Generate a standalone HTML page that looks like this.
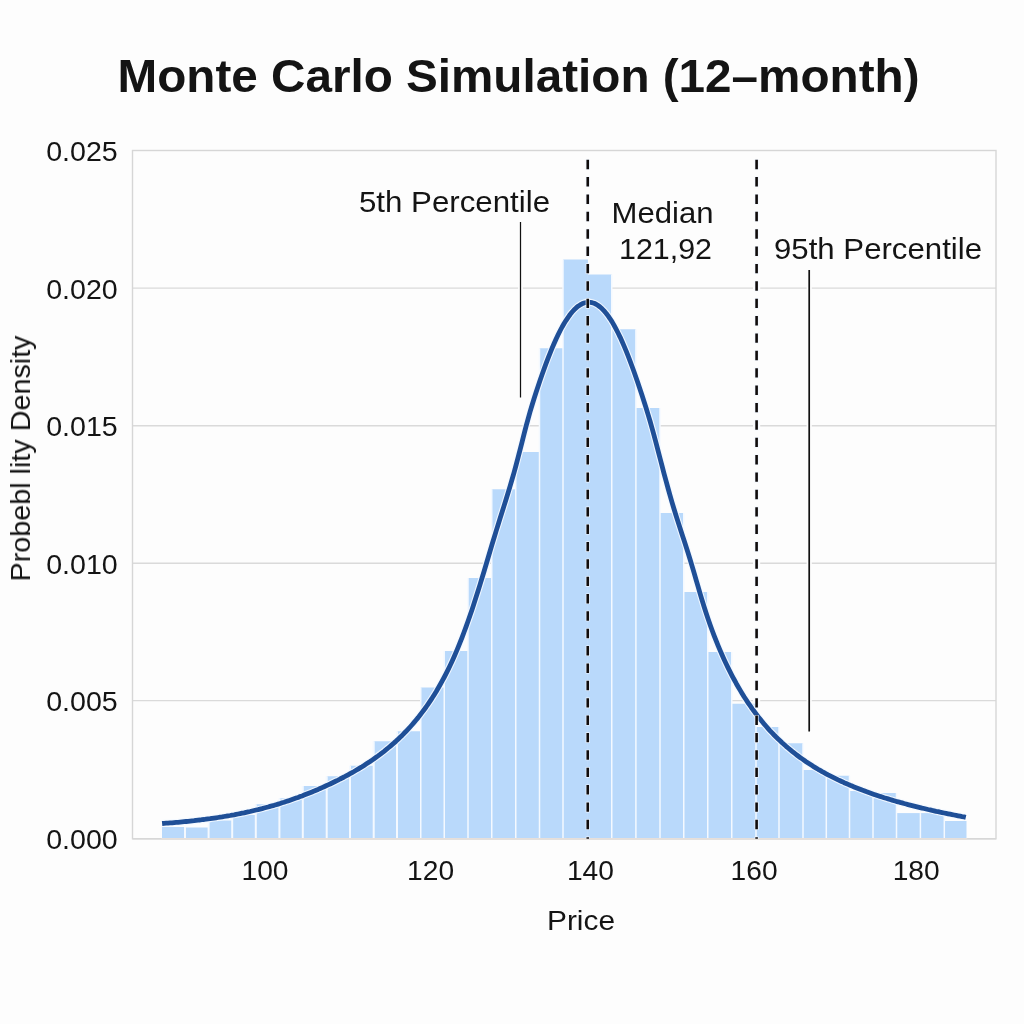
<!DOCTYPE html>
<html><head><meta charset="utf-8"><title>Monte Carlo Simulation (12-month)</title>
<style>
html,body{margin:0;padding:0;background:#fdfdfd;}
body{width:1024px;height:1024px;overflow:hidden;font-family:"Liberation Sans",sans-serif;}
svg{display:block;}
text{font-family:"Liberation Sans",sans-serif;fill:#141414;}
</style></head><body>
<svg width="1024" height="1024" viewBox="0 0 1024 1024">
<rect x="0" y="0" width="1024" height="1024" fill="#fdfdfd"/>
<line x1="132.5" x2="996.0" y1="288.1" y2="288.1" stroke="#dadada" stroke-width="1.4"/>
<line x1="132.5" x2="996.0" y1="425.75" y2="425.75" stroke="#dadada" stroke-width="1.4"/>
<line x1="132.5" x2="996.0" y1="563.2" y2="563.2" stroke="#dadada" stroke-width="1.4"/>
<line x1="132.5" x2="996.0" y1="700.6" y2="700.6" stroke="#dadada" stroke-width="1.4"/>
<rect x="132.5" y="150.5" width="863.5" height="688.25" fill="none" stroke="#d6d6d6" stroke-width="1.4"/>
<rect x="162.00" y="827.00" width="23.00" height="11.25" fill="#b9d9fb"/>
<rect x="185.00" y="827.50" width="23.60" height="10.75" fill="#b9d9fb"/>
<rect x="208.60" y="820.50" width="23.60" height="17.75" fill="#b9d9fb"/>
<rect x="232.20" y="815.00" width="23.60" height="23.25" fill="#b9d9fb"/>
<rect x="255.80" y="804.25" width="23.60" height="34.00" fill="#b9d9fb"/>
<rect x="279.40" y="798.25" width="23.40" height="40.00" fill="#b9d9fb"/>
<rect x="302.80" y="786.00" width="23.90" height="52.25" fill="#b9d9fb"/>
<rect x="326.70" y="776.25" width="23.30" height="62.00" fill="#b9d9fb"/>
<rect x="350.00" y="765.75" width="23.70" height="72.50" fill="#b9d9fb"/>
<rect x="373.70" y="741.25" width="23.30" height="97.00" fill="#b9d9fb"/>
<rect x="397.00" y="731.25" width="23.75" height="107.00" fill="#b9d9fb"/>
<rect x="420.75" y="687.50" width="23.50" height="150.75" fill="#b9d9fb"/>
<rect x="444.25" y="651.00" width="23.75" height="187.25" fill="#b9d9fb"/>
<rect x="468.00" y="578.00" width="23.75" height="260.25" fill="#b9d9fb"/>
<rect x="491.75" y="489.25" width="24.00" height="349.00" fill="#b9d9fb"/>
<rect x="515.75" y="452.00" width="23.75" height="386.25" fill="#b9d9fb"/>
<rect x="539.50" y="348.25" width="23.50" height="490.00" fill="#b9d9fb"/>
<rect x="563.00" y="259.50" width="24.90" height="578.75" fill="#b9d9fb"/>
<rect x="587.90" y="274.50" width="23.85" height="563.75" fill="#b9d9fb"/>
<rect x="611.75" y="329.25" width="24.15" height="509.00" fill="#b9d9fb"/>
<rect x="635.90" y="408.00" width="24.10" height="430.25" fill="#b9d9fb"/>
<rect x="660.00" y="513.00" width="23.75" height="325.25" fill="#b9d9fb"/>
<rect x="683.75" y="592.00" width="24.00" height="246.25" fill="#b9d9fb"/>
<rect x="707.75" y="652.00" width="24.00" height="186.25" fill="#b9d9fb"/>
<rect x="731.75" y="703.75" width="24.25" height="134.50" fill="#b9d9fb"/>
<rect x="756.00" y="727.00" width="23.00" height="111.25" fill="#b9d9fb"/>
<rect x="779.00" y="743.25" width="24.00" height="95.00" fill="#b9d9fb"/>
<rect x="803.00" y="770.00" width="23.30" height="68.25" fill="#b9d9fb"/>
<rect x="826.30" y="775.75" width="23.20" height="62.50" fill="#b9d9fb"/>
<rect x="849.50" y="791.00" width="23.50" height="47.25" fill="#b9d9fb"/>
<rect x="873.00" y="793.00" width="23.50" height="45.25" fill="#b9d9fb"/>
<rect x="896.50" y="813.10" width="23.90" height="25.15" fill="#b9d9fb"/>
<rect x="920.40" y="813.10" width="23.90" height="25.15" fill="#b9d9fb"/>
<rect x="944.30" y="821.00" width="22.20" height="17.25" fill="#b9d9fb"/>
<line x1="185.00" x2="185.00" y1="827.00" y2="838.25" stroke="#f4f9ff" stroke-width="2.0"/>
<line x1="208.60" x2="208.60" y1="820.50" y2="838.25" stroke="#f4f9ff" stroke-width="2.0"/>
<line x1="232.20" x2="232.20" y1="815.00" y2="838.25" stroke="#f4f9ff" stroke-width="2.0"/>
<line x1="255.80" x2="255.80" y1="804.25" y2="838.25" stroke="#f4f9ff" stroke-width="2.0"/>
<line x1="279.40" x2="279.40" y1="798.25" y2="838.25" stroke="#f4f9ff" stroke-width="2.0"/>
<line x1="302.80" x2="302.80" y1="786.00" y2="838.25" stroke="#f4f9ff" stroke-width="2.0"/>
<line x1="326.70" x2="326.70" y1="776.25" y2="838.25" stroke="#f4f9ff" stroke-width="2.0"/>
<line x1="350.00" x2="350.00" y1="765.75" y2="838.25" stroke="#f4f9ff" stroke-width="2.0"/>
<line x1="373.70" x2="373.70" y1="741.25" y2="838.25" stroke="#f4f9ff" stroke-width="2.0"/>
<line x1="397.00" x2="397.00" y1="731.25" y2="838.25" stroke="#f4f9ff" stroke-width="2.0"/>
<line x1="420.75" x2="420.75" y1="687.50" y2="838.25" stroke="#f4f9ff" stroke-width="1.5"/>
<line x1="444.25" x2="444.25" y1="651.00" y2="838.25" stroke="#f4f9ff" stroke-width="1.5"/>
<line x1="468.00" x2="468.00" y1="578.00" y2="838.25" stroke="#f4f9ff" stroke-width="1.5"/>
<line x1="491.75" x2="491.75" y1="489.25" y2="838.25" stroke="#f4f9ff" stroke-width="1.5"/>
<line x1="515.75" x2="515.75" y1="452.00" y2="838.25" stroke="#f4f9ff" stroke-width="1.5"/>
<line x1="539.50" x2="539.50" y1="348.25" y2="838.25" stroke="#f4f9ff" stroke-width="1.5"/>
<line x1="563.00" x2="563.00" y1="259.50" y2="838.25" stroke="#f4f9ff" stroke-width="1.5"/>
<line x1="611.75" x2="611.75" y1="274.50" y2="838.25" stroke="#f4f9ff" stroke-width="1.5"/>
<line x1="635.90" x2="635.90" y1="329.25" y2="838.25" stroke="#f4f9ff" stroke-width="1.5"/>
<line x1="660.00" x2="660.00" y1="408.00" y2="838.25" stroke="#f4f9ff" stroke-width="1.5"/>
<line x1="683.75" x2="683.75" y1="513.00" y2="838.25" stroke="#f4f9ff" stroke-width="1.5"/>
<line x1="707.75" x2="707.75" y1="592.00" y2="838.25" stroke="#f4f9ff" stroke-width="1.5"/>
<line x1="731.75" x2="731.75" y1="652.00" y2="838.25" stroke="#f4f9ff" stroke-width="1.5"/>
<line x1="756.00" x2="756.00" y1="703.75" y2="838.25" stroke="#f4f9ff" stroke-width="1.5"/>
<line x1="779.00" x2="779.00" y1="727.00" y2="838.25" stroke="#f4f9ff" stroke-width="1.5"/>
<line x1="803.00" x2="803.00" y1="743.25" y2="838.25" stroke="#f4f9ff" stroke-width="1.5"/>
<line x1="826.30" x2="826.30" y1="770.00" y2="838.25" stroke="#f4f9ff" stroke-width="1.5"/>
<line x1="849.50" x2="849.50" y1="775.75" y2="838.25" stroke="#f4f9ff" stroke-width="1.5"/>
<line x1="873.00" x2="873.00" y1="791.00" y2="838.25" stroke="#f4f9ff" stroke-width="1.5"/>
<line x1="896.50" x2="896.50" y1="793.00" y2="838.25" stroke="#f4f9ff" stroke-width="1.5"/>
<line x1="920.40" x2="920.40" y1="813.10" y2="838.25" stroke="#f4f9ff" stroke-width="1.5"/>
<line x1="944.30" x2="944.30" y1="813.10" y2="838.25" stroke="#f4f9ff" stroke-width="1.5"/>
<line x1="132.5" x2="996.0" y1="838.75" y2="838.75" stroke="#d7d7d7" stroke-width="1.6"/>
<line x1="161.3" x2="967.2" y1="838.75" y2="838.75" stroke="#e6dfda" stroke-width="1.6"/>
<path d="M162.1,823.5 L164.1,823.3 L166.1,823.2 L168.1,823.1 L170.1,822.9 L172.1,822.8 L174.1,822.6 L176.1,822.4 L178.1,822.3 L180.1,822.1 L182.1,821.9 L184.1,821.7 L186.1,821.5 L188.1,821.3 L190.1,821.1 L192.1,820.9 L194.1,820.7 L196.1,820.4 L198.1,820.2 L200.1,820.0 L202.1,819.7 L204.1,819.5 L206.1,819.2 L208.1,818.9 L210.1,818.7 L212.1,818.4 L214.1,818.1 L216.1,817.8 L218.1,817.5 L220.1,817.2 L222.1,816.9 L224.1,816.5 L226.1,816.2 L228.1,815.8 L230.1,815.5 L232.1,815.1 L234.1,814.8 L236.1,814.4 L238.1,814.0 L240.1,813.6 L242.1,813.2 L244.1,812.8 L246.1,812.3 L248.1,811.9 L250.1,811.5 L252.1,811.0 L254.1,810.5 L256.1,810.0 L258.1,809.6 L260.1,809.1 L262.1,808.6 L264.1,808.0 L266.1,807.5 L268.1,807.0 L270.1,806.4 L272.1,805.8 L274.1,805.3 L276.1,804.7 L278.1,804.1 L280.1,803.5 L282.1,802.8 L284.1,802.2 L286.1,801.5 L288.1,800.9 L290.1,800.2 L292.1,799.5 L294.1,798.8 L296.1,798.1 L298.1,797.4 L300.1,796.6 L302.1,795.9 L304.1,795.1 L306.1,794.3 L308.1,793.5 L310.1,792.7 L312.1,791.9 L314.1,791.1 L316.1,790.2 L318.1,789.4 L320.1,788.5 L322.1,787.6 L324.1,786.7 L326.1,785.8 L328.1,784.9 L330.1,784.0 L332.1,783.0 L334.1,782.0 L336.1,781.0 L338.1,780.1 L340.1,779.0 L342.1,778.0 L344.1,777.0 L346.1,775.9 L348.1,774.8 L350.1,773.7 L352.1,772.6 L354.1,771.5 L356.1,770.3 L358.1,769.1 L360.1,767.9 L362.1,766.7 L364.1,765.4 L366.1,764.1 L368.1,762.8 L370.1,761.5 L372.1,760.1 L374.1,758.7 L376.1,757.3 L378.1,755.9 L380.1,754.4 L382.1,752.8 L384.1,751.3 L386.1,749.7 L388.1,748.0 L390.1,746.4 L392.1,744.6 L394.1,742.9 L396.1,741.1 L398.1,739.2 L400.1,737.3 L402.1,735.4 L404.1,733.3 L406.1,731.3 L408.1,729.2 L410.1,727.0 L412.1,724.7 L414.1,722.4 L416.1,720.0 L418.1,717.6 L420.1,715.0 L422.1,712.4 L424.1,709.7 L426.1,707.0 L428.1,704.1 L430.1,701.1 L432.1,698.1 L434.1,694.9 L436.1,691.7 L438.1,688.3 L440.1,684.8 L442.1,681.2 L444.1,677.5 L446.1,673.6 L448.1,669.6 L450.1,665.5 L452.1,661.2 L454.1,656.7 L456.1,652.1 L458.1,647.3 L460.1,642.4 L462.1,637.3 L464.1,632.0 L466.1,626.6 L468.1,621.0 L470.1,615.3 L472.1,609.4 L474.1,603.3 L476.1,597.1 L478.1,590.8 L480.1,584.4 L482.1,577.8 L484.1,571.2 L486.1,564.5 L488.1,557.8 L490.1,551.0 L492.1,544.3 L494.1,537.7 L496.1,531.1 L498.1,524.7 L500.1,518.3 L502.1,512.0 L504.1,505.6 L506.1,499.2 L508.1,492.7 L510.1,486.1 L512.1,479.3 L514.1,472.3 L516.1,465.0 L518.1,457.4 L520.1,449.6 L522.1,441.8 L524.1,433.9 L526.1,426.2 L528.1,418.8 L530.1,411.7 L532.1,405.0 L534.1,398.5 L536.1,392.3 L538.1,386.3 L540.1,380.3 L542.1,374.5 L544.1,368.9 L546.1,363.4 L548.1,358.1 L550.1,353.1 L552.1,348.2 L554.1,343.5 L556.1,339.0 L558.1,334.8 L560.1,330.8 L562.1,327.0 L564.1,323.5 L566.1,320.3 L568.1,317.3 L570.1,314.5 L572.1,312.0 L574.1,309.8 L576.1,307.9 L578.1,306.2 L580.1,304.9 L582.1,303.8 L584.1,303.0 L586.1,302.5 L588.1,302.2 L590.1,302.3 L592.1,302.7 L594.1,303.3 L596.1,304.2 L598.1,305.5 L600.1,307.0 L602.1,308.8 L604.1,310.9 L606.1,313.2 L608.1,315.9 L610.1,318.8 L612.1,321.9 L614.1,325.4 L616.1,329.1 L618.1,333.0 L620.1,337.1 L622.1,341.5 L624.1,346.1 L626.1,350.9 L628.1,355.9 L630.1,361.1 L632.1,366.5 L634.1,372.0 L636.1,377.7 L638.1,383.5 L640.1,389.5 L642.1,395.5 L644.1,401.8 L646.1,408.1 L648.1,414.6 L650.1,421.3 L652.1,428.3 L654.1,435.6 L656.1,443.2 L658.1,450.8 L660.1,458.5 L662.1,466.2 L664.1,473.8 L666.1,481.2 L668.1,488.5 L670.1,495.6 L672.1,502.6 L674.1,509.3 L676.1,515.8 L678.1,522.1 L680.1,528.3 L682.1,534.5 L684.1,540.6 L686.1,546.8 L688.1,553.1 L690.1,559.5 L692.1,566.1 L694.1,572.9 L696.1,579.8 L698.1,586.7 L700.1,593.6 L702.1,600.3 L704.1,606.8 L706.1,613.0 L708.1,619.0 L710.1,624.7 L712.1,630.2 L714.1,635.6 L716.1,640.7 L718.1,645.6 L720.1,650.4 L722.1,655.0 L724.1,659.4 L726.1,663.7 L728.1,667.9 L730.1,671.9 L732.1,675.8 L734.1,679.5 L736.1,683.2 L738.1,686.7 L740.1,690.1 L742.1,693.4 L744.1,696.7 L746.1,699.8 L748.1,702.8 L750.1,705.7 L752.1,708.6 L754.1,711.3 L756.1,714.0 L758.1,716.6 L760.1,719.1 L762.1,721.6 L764.1,724.0 L766.1,726.3 L768.1,728.6 L770.1,730.8 L772.1,732.9 L774.1,735.0 L776.1,737.0 L778.1,738.9 L780.1,740.8 L782.1,742.7 L784.1,744.5 L786.1,746.3 L788.1,748.0 L790.1,749.7 L792.1,751.3 L794.1,752.9 L796.1,754.5 L798.1,756.0 L800.1,757.5 L802.1,758.9 L804.1,760.3 L806.1,761.7 L808.1,763.0 L810.1,764.3 L812.1,765.6 L814.1,766.9 L816.1,768.1 L818.1,769.3 L820.1,770.4 L822.1,771.6 L824.1,772.7 L826.1,773.8 L828.1,774.9 L830.1,775.9 L832.1,776.9 L834.1,777.9 L836.1,778.9 L838.1,779.9 L840.1,780.8 L842.1,781.7 L844.1,782.7 L846.1,783.5 L848.1,784.4 L850.1,785.3 L852.1,786.1 L854.1,786.9 L856.1,787.7 L858.1,788.5 L860.1,789.3 L862.1,790.1 L864.1,790.8 L866.1,791.6 L868.1,792.3 L870.1,793.0 L872.1,793.7 L874.1,794.4 L876.1,795.1 L878.1,795.7 L880.1,796.4 L882.1,797.0 L884.1,797.7 L886.1,798.3 L888.1,798.9 L890.1,799.5 L892.1,800.1 L894.1,800.7 L896.1,801.3 L898.1,801.8 L900.1,802.4 L902.1,802.9 L904.1,803.5 L906.1,804.0 L908.1,804.6 L910.1,805.1 L912.1,805.6 L914.1,806.1 L916.1,806.6 L918.1,807.1 L920.1,807.6 L922.1,808.1 L924.1,808.5 L926.1,809.0 L928.1,809.5 L930.1,809.9 L932.1,810.4 L934.1,810.8 L936.1,811.3 L938.1,811.7 L940.1,812.2 L942.1,812.6 L944.1,813.0 L946.1,813.4 L948.1,813.8 L950.1,814.2 L952.1,814.6 L954.1,815.0 L956.1,815.4 L958.1,815.8 L960.1,816.2 L962.1,816.6 L964.1,816.9 L965.8,817.3" fill="none" stroke="#f3f8ff" stroke-width="7.0" stroke-linejoin="round" stroke-linecap="butt" opacity="0.92"/>
<path d="M162.1,823.5 L164.1,823.3 L166.1,823.2 L168.1,823.1 L170.1,822.9 L172.1,822.8 L174.1,822.6 L176.1,822.4 L178.1,822.3 L180.1,822.1 L182.1,821.9 L184.1,821.7 L186.1,821.5 L188.1,821.3 L190.1,821.1 L192.1,820.9 L194.1,820.7 L196.1,820.4 L198.1,820.2 L200.1,820.0 L202.1,819.7 L204.1,819.5 L206.1,819.2 L208.1,818.9 L210.1,818.7 L212.1,818.4 L214.1,818.1 L216.1,817.8 L218.1,817.5 L220.1,817.2 L222.1,816.9 L224.1,816.5 L226.1,816.2 L228.1,815.8 L230.1,815.5 L232.1,815.1 L234.1,814.8 L236.1,814.4 L238.1,814.0 L240.1,813.6 L242.1,813.2 L244.1,812.8 L246.1,812.3 L248.1,811.9 L250.1,811.5 L252.1,811.0 L254.1,810.5 L256.1,810.0 L258.1,809.6 L260.1,809.1 L262.1,808.6 L264.1,808.0 L266.1,807.5 L268.1,807.0 L270.1,806.4 L272.1,805.8 L274.1,805.3 L276.1,804.7 L278.1,804.1 L280.1,803.5 L282.1,802.8 L284.1,802.2 L286.1,801.5 L288.1,800.9 L290.1,800.2 L292.1,799.5 L294.1,798.8 L296.1,798.1 L298.1,797.4 L300.1,796.6 L302.1,795.9 L304.1,795.1 L306.1,794.3 L308.1,793.5 L310.1,792.7 L312.1,791.9 L314.1,791.1 L316.1,790.2 L318.1,789.4 L320.1,788.5 L322.1,787.6 L324.1,786.7 L326.1,785.8 L328.1,784.9 L330.1,784.0 L332.1,783.0 L334.1,782.0 L336.1,781.0 L338.1,780.1 L340.1,779.0 L342.1,778.0 L344.1,777.0 L346.1,775.9 L348.1,774.8 L350.1,773.7 L352.1,772.6 L354.1,771.5 L356.1,770.3 L358.1,769.1 L360.1,767.9 L362.1,766.7 L364.1,765.4 L366.1,764.1 L368.1,762.8 L370.1,761.5 L372.1,760.1 L374.1,758.7 L376.1,757.3 L378.1,755.9 L380.1,754.4 L382.1,752.8 L384.1,751.3 L386.1,749.7 L388.1,748.0 L390.1,746.4 L392.1,744.6 L394.1,742.9 L396.1,741.1 L398.1,739.2 L400.1,737.3 L402.1,735.4 L404.1,733.3 L406.1,731.3 L408.1,729.2 L410.1,727.0 L412.1,724.7 L414.1,722.4 L416.1,720.0 L418.1,717.6 L420.1,715.0 L422.1,712.4 L424.1,709.7 L426.1,707.0 L428.1,704.1 L430.1,701.1 L432.1,698.1 L434.1,694.9 L436.1,691.7 L438.1,688.3 L440.1,684.8 L442.1,681.2 L444.1,677.5 L446.1,673.6 L448.1,669.6 L450.1,665.5 L452.1,661.2 L454.1,656.7 L456.1,652.1 L458.1,647.3 L460.1,642.4 L462.1,637.3 L464.1,632.0 L466.1,626.6 L468.1,621.0 L470.1,615.3 L472.1,609.4 L474.1,603.3 L476.1,597.1 L478.1,590.8 L480.1,584.4 L482.1,577.8 L484.1,571.2 L486.1,564.5 L488.1,557.8 L490.1,551.0 L492.1,544.3 L494.1,537.7 L496.1,531.1 L498.1,524.7 L500.1,518.3 L502.1,512.0 L504.1,505.6 L506.1,499.2 L508.1,492.7 L510.1,486.1 L512.1,479.3 L514.1,472.3 L516.1,465.0 L518.1,457.4 L520.1,449.6 L522.1,441.8 L524.1,433.9 L526.1,426.2 L528.1,418.8 L530.1,411.7 L532.1,405.0 L534.1,398.5 L536.1,392.3 L538.1,386.3 L540.1,380.3 L542.1,374.5 L544.1,368.9 L546.1,363.4 L548.1,358.1 L550.1,353.1 L552.1,348.2 L554.1,343.5 L556.1,339.0 L558.1,334.8 L560.1,330.8 L562.1,327.0 L564.1,323.5 L566.1,320.3 L568.1,317.3 L570.1,314.5 L572.1,312.0 L574.1,309.8 L576.1,307.9 L578.1,306.2 L580.1,304.9 L582.1,303.8 L584.1,303.0 L586.1,302.5 L588.1,302.2 L590.1,302.3 L592.1,302.7 L594.1,303.3 L596.1,304.2 L598.1,305.5 L600.1,307.0 L602.1,308.8 L604.1,310.9 L606.1,313.2 L608.1,315.9 L610.1,318.8 L612.1,321.9 L614.1,325.4 L616.1,329.1 L618.1,333.0 L620.1,337.1 L622.1,341.5 L624.1,346.1 L626.1,350.9 L628.1,355.9 L630.1,361.1 L632.1,366.5 L634.1,372.0 L636.1,377.7 L638.1,383.5 L640.1,389.5 L642.1,395.5 L644.1,401.8 L646.1,408.1 L648.1,414.6 L650.1,421.3 L652.1,428.3 L654.1,435.6 L656.1,443.2 L658.1,450.8 L660.1,458.5 L662.1,466.2 L664.1,473.8 L666.1,481.2 L668.1,488.5 L670.1,495.6 L672.1,502.6 L674.1,509.3 L676.1,515.8 L678.1,522.1 L680.1,528.3 L682.1,534.5 L684.1,540.6 L686.1,546.8 L688.1,553.1 L690.1,559.5 L692.1,566.1 L694.1,572.9 L696.1,579.8 L698.1,586.7 L700.1,593.6 L702.1,600.3 L704.1,606.8 L706.1,613.0 L708.1,619.0 L710.1,624.7 L712.1,630.2 L714.1,635.6 L716.1,640.7 L718.1,645.6 L720.1,650.4 L722.1,655.0 L724.1,659.4 L726.1,663.7 L728.1,667.9 L730.1,671.9 L732.1,675.8 L734.1,679.5 L736.1,683.2 L738.1,686.7 L740.1,690.1 L742.1,693.4 L744.1,696.7 L746.1,699.8 L748.1,702.8 L750.1,705.7 L752.1,708.6 L754.1,711.3 L756.1,714.0 L758.1,716.6 L760.1,719.1 L762.1,721.6 L764.1,724.0 L766.1,726.3 L768.1,728.6 L770.1,730.8 L772.1,732.9 L774.1,735.0 L776.1,737.0 L778.1,738.9 L780.1,740.8 L782.1,742.7 L784.1,744.5 L786.1,746.3 L788.1,748.0 L790.1,749.7 L792.1,751.3 L794.1,752.9 L796.1,754.5 L798.1,756.0 L800.1,757.5 L802.1,758.9 L804.1,760.3 L806.1,761.7 L808.1,763.0 L810.1,764.3 L812.1,765.6 L814.1,766.9 L816.1,768.1 L818.1,769.3 L820.1,770.4 L822.1,771.6 L824.1,772.7 L826.1,773.8 L828.1,774.9 L830.1,775.9 L832.1,776.9 L834.1,777.9 L836.1,778.9 L838.1,779.9 L840.1,780.8 L842.1,781.7 L844.1,782.7 L846.1,783.5 L848.1,784.4 L850.1,785.3 L852.1,786.1 L854.1,786.9 L856.1,787.7 L858.1,788.5 L860.1,789.3 L862.1,790.1 L864.1,790.8 L866.1,791.6 L868.1,792.3 L870.1,793.0 L872.1,793.7 L874.1,794.4 L876.1,795.1 L878.1,795.7 L880.1,796.4 L882.1,797.0 L884.1,797.7 L886.1,798.3 L888.1,798.9 L890.1,799.5 L892.1,800.1 L894.1,800.7 L896.1,801.3 L898.1,801.8 L900.1,802.4 L902.1,802.9 L904.1,803.5 L906.1,804.0 L908.1,804.6 L910.1,805.1 L912.1,805.6 L914.1,806.1 L916.1,806.6 L918.1,807.1 L920.1,807.6 L922.1,808.1 L924.1,808.5 L926.1,809.0 L928.1,809.5 L930.1,809.9 L932.1,810.4 L934.1,810.8 L936.1,811.3 L938.1,811.7 L940.1,812.2 L942.1,812.6 L944.1,813.0 L946.1,813.4 L948.1,813.8 L950.1,814.2 L952.1,814.6 L954.1,815.0 L956.1,815.4 L958.1,815.8 L960.1,816.2 L962.1,816.6 L964.1,816.9 L965.8,817.3" fill="none" stroke="#1f4f97" stroke-width="4.8" stroke-linejoin="round" stroke-linecap="butt"/>
<rect x="753.0" y="286.9" width="7.2" height="2.4" fill="#fdfdfd"/>
<rect x="753.0" y="424.6" width="7.2" height="2.4" fill="#fdfdfd"/>
<rect x="753.0" y="562.0" width="7.2" height="2.4" fill="#fdfdfd"/>
<rect x="753.0" y="699.4" width="7.2" height="2.4" fill="#fdfdfd"/>
<rect x="806.6" y="286.9" width="5.2" height="2.4" fill="#fdfdfd"/>
<rect x="806.6" y="424.6" width="5.2" height="2.4" fill="#fdfdfd"/>
<rect x="806.6" y="562.0" width="5.2" height="2.4" fill="#fdfdfd"/>
<rect x="806.6" y="699.4" width="5.2" height="2.4" fill="#fdfdfd"/>
<rect x="518.1" y="286.9" width="4.8" height="2.4" fill="#fdfdfd"/>
<line x1="587.75" x2="587.75" y1="159.15" y2="838.75" stroke="#eef6ff" stroke-opacity="0.85" stroke-width="4.2" stroke-dasharray="10.6 6.77"/>
<line x1="587.75" x2="587.75" y1="159.75" y2="838.75" stroke="#100c0c" stroke-width="2.6" stroke-dasharray="9.4 7.97"/>
<line x1="756.6" x2="756.6" y1="159.15" y2="838.75" stroke="#eef6ff" stroke-opacity="0.85" stroke-width="4.2" stroke-dasharray="10.6 6.77"/>
<line x1="756.6" x2="756.6" y1="159.75" y2="838.75" stroke="#100c0c" stroke-width="2.6" stroke-dasharray="9.4 7.97"/>
<line x1="520.5" x2="520.5" y1="222" y2="397.5" stroke="#111" stroke-width="1.25"/>
<line x1="809.2" x2="809.2" y1="270" y2="731.6" stroke="#111" stroke-width="1.7"/>
<g id="labels" opacity="0.999">
<text id="title" x="117.5" y="91.5" font-size="47" font-weight="bold" fill="#0a0a0a" textLength="802" lengthAdjust="spacingAndGlyphs">Monte Carlo Simulation (12–month)</text>
<text id="p5" x="359" y="212" font-size="29" textLength="191" lengthAdjust="spacingAndGlyphs">5th Percentile</text>
<text id="med" x="611.5" y="222.5" font-size="29" textLength="102" lengthAdjust="spacingAndGlyphs">Median</text>
<text id="medv" x="619" y="259.2" font-size="29" textLength="93" lengthAdjust="spacingAndGlyphs">121,92</text>
<text id="p95" x="774" y="258.75" font-size="29" textLength="208" lengthAdjust="spacingAndGlyphs">95th Percentile</text>
<text class="yt" x="46.2" y="161.1" font-size="27.5" textLength="71.6" lengthAdjust="spacingAndGlyphs">0.025</text>
<text class="yt" x="46.2" y="298.7" font-size="27.5" textLength="71.6" lengthAdjust="spacingAndGlyphs">0.020</text>
<text class="yt" x="46.2" y="436.4" font-size="27.5" textLength="71.6" lengthAdjust="spacingAndGlyphs">0.015</text>
<text class="yt" x="46.2" y="573.8" font-size="27.5" textLength="71.6" lengthAdjust="spacingAndGlyphs">0.010</text>
<text class="yt" x="46.2" y="711.2" font-size="27.5" textLength="71.6" lengthAdjust="spacingAndGlyphs">0.005</text>
<text class="yt" x="46.2" y="849.4" font-size="27.5" textLength="71.6" lengthAdjust="spacingAndGlyphs">0.000</text>
<text class="xt" x="265" y="880" text-anchor="middle" font-size="27" textLength="47" lengthAdjust="spacingAndGlyphs">100</text>
<text class="xt" x="430.6" y="880" text-anchor="middle" font-size="27" textLength="47" lengthAdjust="spacingAndGlyphs">120</text>
<text class="xt" x="590.4" y="880" text-anchor="middle" font-size="27" textLength="47" lengthAdjust="spacingAndGlyphs">140</text>
<text class="xt" x="754.1" y="880" text-anchor="middle" font-size="27" textLength="47" lengthAdjust="spacingAndGlyphs">160</text>
<text class="xt" x="916.2" y="880" text-anchor="middle" font-size="27" textLength="47" lengthAdjust="spacingAndGlyphs">180</text>
<text id="xl" x="581" y="929.8" text-anchor="middle" font-size="28" fill="#1a1d2e" textLength="68" lengthAdjust="spacingAndGlyphs">Price</text>
<text id="yl" transform="translate(30,458.5) rotate(-90)" text-anchor="middle" font-size="27" textLength="246" lengthAdjust="spacingAndGlyphs">Probebl lity Density</text>
</g>
</svg>
</body></html>
